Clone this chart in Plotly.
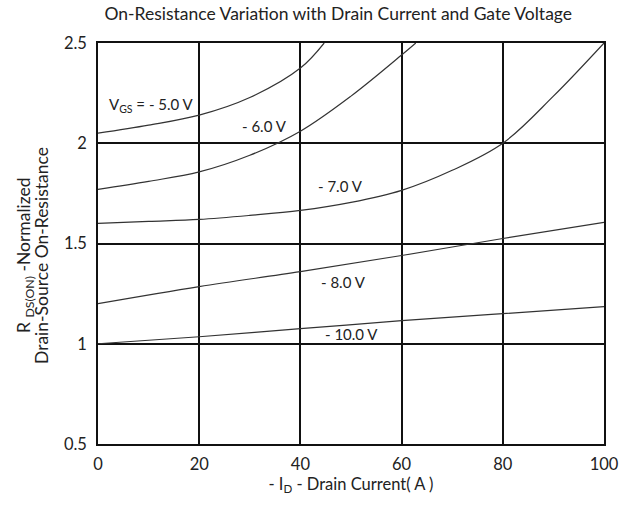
import plotly.graph_objects as go

# Drain current (A) sample points and normalized R_DS(on) per gate voltage
id_v5 = [0, 10, 20, 30, 40, 44.7]
r_v5 = [2.05, 2.09, 2.14, 2.228, 2.375, 2.5]

id_v6 = [0, 10, 20, 30, 40, 50, 60, 62.8]
r_v6 = [1.77, 1.81, 1.857, 1.94, 2.06, 2.235, 2.44, 2.5]

id_v7 = [0, 10, 20, 30, 40, 50, 60, 70, 80, 90, 100]
r_v7 = [1.6, 1.61, 1.62, 1.64, 1.665, 1.705, 1.765, 1.865, 2.0, 2.235, 2.5]

id_v8 = [0, 20, 40, 60, 80, 100]
r_v8 = [1.2, 1.285, 1.36, 1.44, 1.525, 1.605]

id_v10 = [0, 20, 40, 60, 80, 100]
r_v10 = [1.0, 1.035, 1.075, 1.115, 1.15, 1.185]

x_ticks = [0, 20, 40, 60, 80, 100]
y_ticks = [0.5, 1, 1.5, 2, 2.5]

labels = ["V<sub>GS</sub> = - 5.0 V", "- 6.0 V", "- 7.0 V", "- 8.0 V", "- 10.0 V"]
label_x = [10.5, 33, 48, 48.5, 50]
label_y = [2.19, 2.085, 1.785, 1.31, 1.05]

y_title_lines = ["R <sub>DS(ON)</sub> -Normalized", "Drain-Source On-Resistance"]

FONT = "Lato"
fig = go.Figure()
for xs, ys in [(id_v5, r_v5), (id_v6, r_v6), (id_v7, r_v7), (id_v8, r_v8), (id_v10, r_v10)]:
    fig.add_trace(go.Scatter(x=xs, y=ys, mode="lines",
                             line=dict(color="#333333", width=1.2, shape="spline", smoothing=1.0),
                             showlegend=False, hoverinfo="skip"))

for t, xx, yy in zip(labels, label_x, label_y):
    fig.add_annotation(x=xx, y=yy, text=t, showarrow=False, font=dict(family=FONT, size=15, color="#222222"))

# y-axis title as two rotated lines (tighter line spacing than a <br> title)
for t, xs in zip(y_title_lines, [-73, -56]):
    fig.add_annotation(xref="paper", yref="paper", x=0, y=0.469, xanchor="center", yanchor="middle",
                       xshift=xs, text=t, textangle=-90, showarrow=False,
                       font=dict(family=FONT, size=17.5, color="#222222"))

fig.update_layout(
    width=623, height=507,
    margin=dict(l=98, r=19, t=43, b=63, autoexpand=False),
    paper_bgcolor="white", plot_bgcolor="white",
    font=dict(family=FONT, size=16.5, color="#222222"),
    title=dict(text="On-Resistance Variation with Drain Current and Gate Voltage",
               x=0.543, xanchor="center", y=0.972, yanchor="middle",
               font=dict(family=FONT, size=17.5, color="#222222")),
    xaxis=dict(range=[0, 100], tickvals=x_ticks, ticktext=[str(v) for v in x_ticks],
               showgrid=True, gridcolor="#111111", gridwidth=1.5,
               showline=True, linecolor="#111111", linewidth=1.5, mirror=True,
               zeroline=False, ticks="outside", ticklen=4, tickcolor="white",
               automargin=False, ticklabeloverflow="allow",
               title=dict(text="- I<sub>D</sub> - Drain Current( A )", standoff=5,
                          font=dict(family=FONT, size=16.5))),
    yaxis=dict(range=[0.5, 2.5], tickvals=y_ticks, ticktext=["0.5", "1", "1.5", "2", "2.5"],
               showgrid=True, gridcolor="#111111", gridwidth=1.5,
               showline=True, linecolor="#111111", linewidth=1.5, mirror=True,
               zeroline=False, ticks="outside", ticklen=6, tickcolor="white",
               automargin=False),
)

fig.write_html("out.html", config={"displayModeBar": False},
               post_script="document.body.style.margin='0';document.body.style.overflow='hidden';")
